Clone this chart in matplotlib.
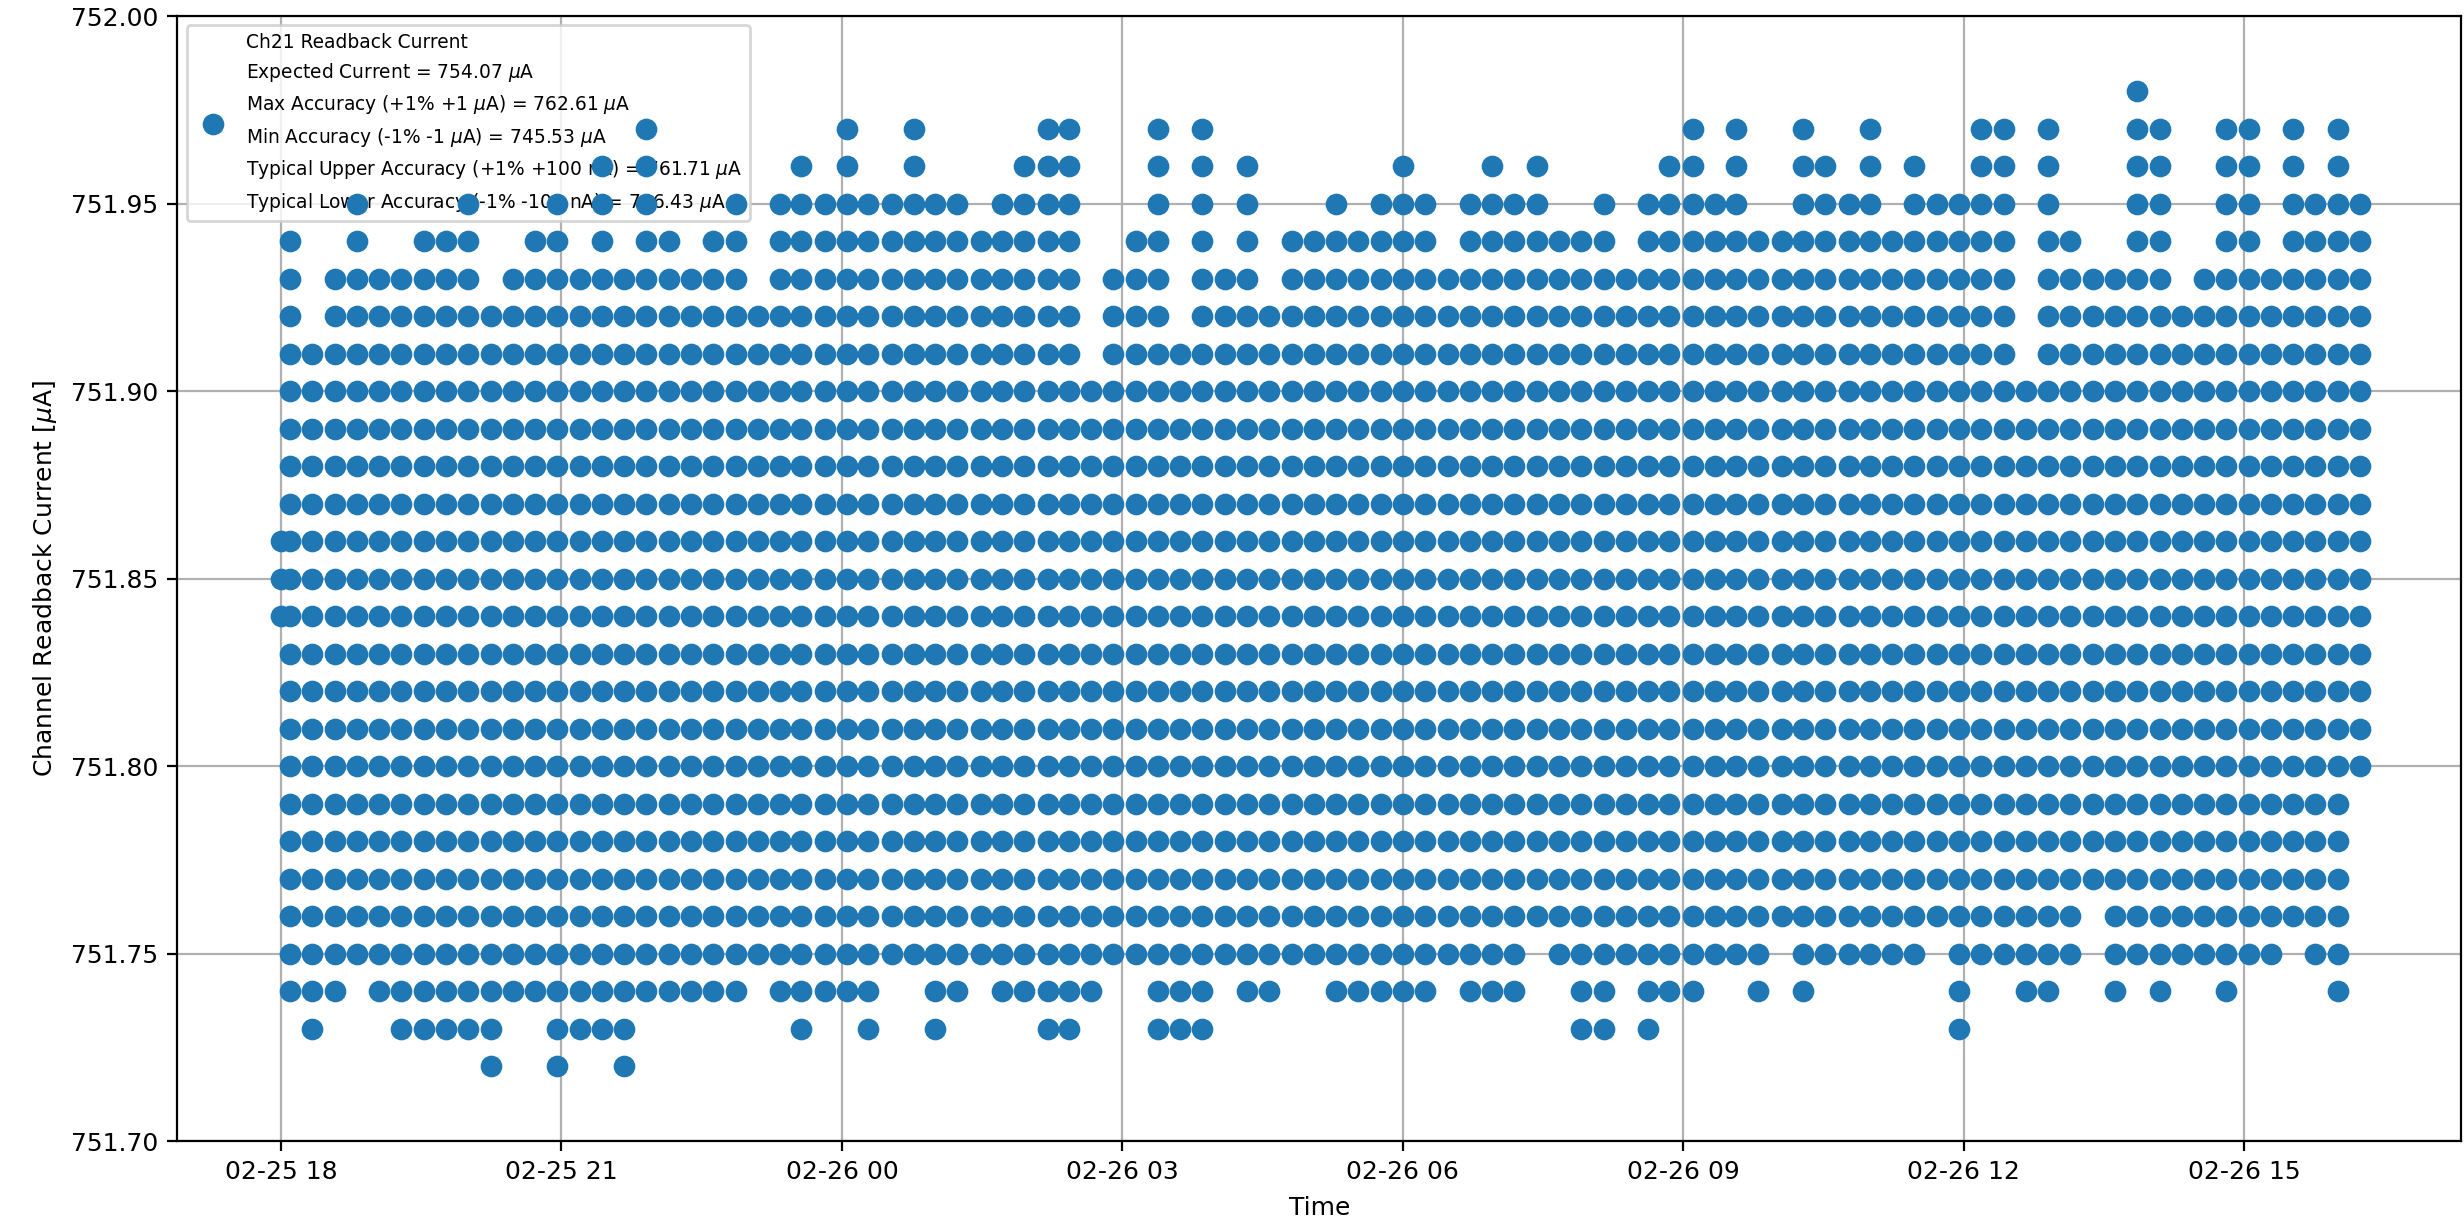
import datetime as dt

import matplotlib
matplotlib.use("Agg")
import matplotlib.pyplot as plt
import matplotlib.dates as mdates

START = dt.datetime(2019, 2, 25, 18, 0)

# minutes after 02-25 18:00 of every readback column
col_minutes = [6, 20, 35, 49, 63, 77, 92, 106, 120, 135,
               149, 163, 177, 192, 206, 220, 234, 249, 263, 277,
               292, 306, 320, 334, 349, 363, 377, 392, 406, 420,
               434, 449, 463, 477, 492, 506, 520, 534, 549, 563,
               577, 591, 606, 620, 634, 649, 663, 677, 691, 706,
               720, 734, 749, 763, 777, 791, 806, 820, 834, 849,
               863, 877, 891, 906, 920, 934, 948, 963, 977, 991,
               1006, 1020, 1034, 1048, 1063, 1077, 1091, 1106, 1120, 1134,
               1148, 1163, 1177, 1191, 1206, 1220, 1234, 1248, 1263, 1277,
               1291, 1305, 1320, 1334]

# a first short burst just at 18:00
early_minutes = [0]
early_levels = [751.84, 751.85, 751.86]

# sparse levels: column indices where the level was read
cols_98 = [83]
cols_97 = [16, 25, 28, 34, 35, 39, 41, 63, 65, 68, 71, 76, 77, 79, 83, 84,
           87, 88, 90, 92]
cols_96 = [14, 16, 23, 25, 28, 33, 34, 35, 39, 41, 43, 50, 54, 56, 62, 63,
           65, 68, 69, 71, 73, 76, 77, 79, 83, 84, 87, 88, 90, 92]
cols_95 = [3, 8, 12, 14, 16, 20, 22, 23, 24, 25, 26, 27, 28, 29, 30, 32,
           33, 34, 35, 39, 41, 43, 47, 49, 50, 51, 53, 54, 55, 56, 59, 61,
           62, 63, 64, 65, 68, 69, 70, 71, 73, 74, 75, 76, 77, 79, 83, 84,
           87, 88, 90, 91, 92, 93]
cols_94 = [0, 3, 6, 7, 8, 11, 12, 14, 16, 17, 19, 20, 22, 23, 24, 25, 26,
           27, 28, 29, 30, 31, 32, 33, 34, 35, 38, 39, 41, 43, 45, 46, 47,
           48, 49, 50, 51, 53, 54, 55, 56, 57, 58, 59, 61, 62, 63, 64, 65,
           66, 67, 68, 69, 70, 71, 72, 73, 74, 75, 76, 77, 79, 80, 83, 84,
           87, 88, 90, 91, 92, 93]
cols_74 = [0, 1, 2, 4, 5, 6, 7, 8, 9, 10, 11, 12, 13, 14, 15, 16, 17, 18,
           19, 20, 22, 23, 24, 25, 26, 29, 30, 32, 33, 34, 35, 36, 39, 40,
           41, 43, 44, 47, 48, 49, 50, 51, 53, 54, 55, 58, 59, 61, 62, 63,
           66, 68, 75, 78, 79, 82, 84, 87, 92]
cols_73 = [1, 5, 6, 7, 8, 9, 12, 13, 14, 15, 23, 26, 29, 34, 35, 39, 40,
           41, 58, 59, 61, 75]
cols_72 = [9, 12, 15]

# dense levels: column indices where the level is missing
gaps_93 = [1, 9, 21, 36, 40, 44, 78, 85]
gaps_92 = [1, 36, 40, 78]
gaps_91 = [36, 78]
gaps_76 = [81]
gaps_75 = [56, 67, 74, 81, 90]

full_levels = [751.90, 751.89, 751.88, 751.87, 751.86, 751.85, 751.84,
               751.83, 751.82, 751.81, 751.80]
# these stop one column before the end
short_levels = [751.79, 751.78, 751.77]

LEGEND_LABEL = ("Ch21 Readback Current\n"
                "Expected Current = 754.07 $\\mu$A\n"
                "Max Accuracy (+1% +1 $\\mu$A) = 762.61 $\\mu$A\n"
                "Min Accuracy (-1% -1 $\\mu$A) = 745.53 $\\mu$A\n"
                "Typical Upper Accuracy (+1% +100 nA) = 761.71 $\\mu$A\n"
                "Typical Lower Accuracy (-1% -100 nA) = 746.43 $\\mu$A")


def build_rows():
    n = len(col_minutes)
    rows = {
        751.98: cols_98, 751.97: cols_97, 751.96: cols_96,
        751.95: cols_95, 751.94: cols_94,
        751.93: [i for i in range(n) if i not in gaps_93],
        751.92: [i for i in range(n) if i not in gaps_92],
        751.91: [i for i in range(n) if i not in gaps_91],
        751.76: [i for i in range(n - 1) if i not in gaps_76],
        751.75: [i for i in range(n - 1) if i not in gaps_75],
        751.74: cols_74, 751.73: cols_73, 751.72: cols_72,
    }
    for lv in full_levels:
        rows[lv] = list(range(n))
    for lv in short_levels:
        rows[lv] = list(range(n - 1))
    return rows


def main():
    times, vals = [], []
    for level, cols in build_rows().items():
        for i in cols:
            times.append(START + dt.timedelta(minutes=col_minutes[i]))
            vals.append(level)
    for m in early_minutes:
        for lv in early_levels:
            times.append(START + dt.timedelta(minutes=m))
            vals.append(lv)

    fig = plt.figure(figsize=(12.32, 6.12), dpi=200)
    ax = fig.add_axes([0.072, 0.0678, 0.9268, 0.9191])

    ax.plot(times, vals, "o", color="#1f77b4", ms=6.8, zorder=3,
            label=LEGEND_LABEL)

    ax.set_xlim(START - dt.timedelta(minutes=66.4),
                START + dt.timedelta(minutes=1399))
    ax.set_ylim(751.70, 752.00)
    ax.set_yticks([751.70, 751.75, 751.80, 751.85, 751.90, 751.95, 752.00])
    ax.yaxis.set_major_formatter(matplotlib.ticker.FormatStrFormatter("%.2f"))
    ax.xaxis.set_major_locator(mdates.HourLocator(byhour=range(0, 24, 3)))
    ax.xaxis.set_major_formatter(mdates.DateFormatter("%m-%d %H"))
    ax.tick_params(labelsize=9)
    ax.grid(True)

    ax.set_xlabel("Time", fontsize=9)
    ax.set_ylabel("Channel Readback Current [$\\mu$A]", fontsize=9)

    leg = ax.legend(loc="upper left", fontsize=6.7, numpoints=1)
    leg.set_zorder(2.5)
    for t in leg.get_texts():
        t.set_linespacing(1.55)

    fig.savefig("out.png", dpi=200)
    plt.close(fig)


if __name__ == "__main__":
    main()
